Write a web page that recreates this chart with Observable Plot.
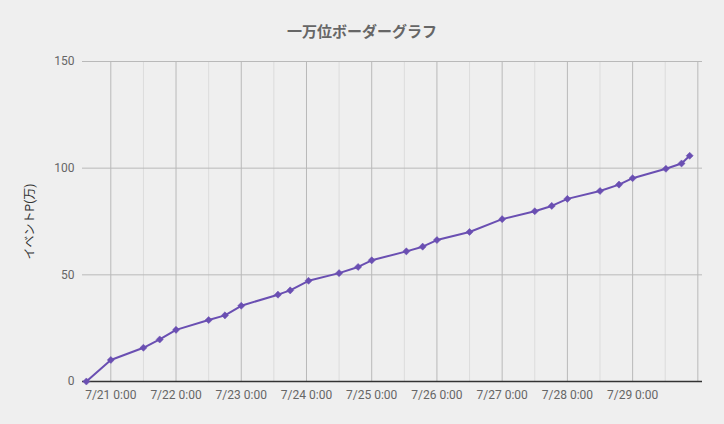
<!DOCTYPE html>
<html>
<head>
<meta charset="utf-8">
<script src="https://cdn.jsdelivr.net/npm/d3@7"></script>
<script src="https://cdn.jsdelivr.net/npm/@observablehq/plot@0.6"></script>
<style>
  html, body { margin: 0; padding: 0; background: #efefef; }
  body { width: 724px; height: 424px; overflow: hidden; font-family: Roboto, "Noto Sans CJK JP", sans-serif; }
  #title { width: 724px; height: 50px; box-sizing: border-box; padding-top: 22px; line-height: 20px;
           text-align: center; font-size: 15px; font-weight: bold; color: #666; }
  #chart svg { display: block; }
</style>
</head>
<body>
<div id="title">一万位ボーダーグラフ</div>
<div id="chart"></div>
<script>
const titleText = "一万位ボーダーグラフ";
const yLabel = "イベントP(万)";

const times = [
  "2023-07-20T15:00", "2023-07-21T00:00", "2023-07-21T12:00", "2023-07-21T18:00",
  "2023-07-22T00:00", "2023-07-22T12:00", "2023-07-22T18:00", "2023-07-23T00:00",
  "2023-07-23T13:30", "2023-07-23T18:00", "2023-07-24T00:45", "2023-07-24T12:00",
  "2023-07-24T19:00", "2023-07-25T00:00", "2023-07-25T12:45", "2023-07-25T18:45",
  "2023-07-26T00:00", "2023-07-26T12:00", "2023-07-27T00:00", "2023-07-27T12:00",
  "2023-07-27T18:15", "2023-07-28T00:00", "2023-07-28T12:00", "2023-07-28T19:00",
  "2023-07-29T00:00", "2023-07-29T12:15", "2023-07-29T18:00", "2023-07-29T21:00"
];
const values = [
  0, 10.1, 15.8, 19.7,
  24.2, 28.8, 31.0, 35.5,
  40.7, 42.7, 47.2, 50.8,
  53.7, 56.8, 61.0, 63.2,
  66.3, 70.1, 76.1, 79.8,
  82.3, 85.6, 89.3, 92.3,
  95.3, 99.7, 102.2, 105.8
];

const xDomainStr = ["2023-07-20T13:35", "2023-07-30T01:43"];
const majorTickStr = ["2023-07-21T00:00","2023-07-22T00:00","2023-07-23T00:00","2023-07-24T00:00","2023-07-25T00:00",
                      "2023-07-26T00:00","2023-07-27T00:00","2023-07-28T00:00","2023-07-29T00:00","2023-07-30T00:00"];
const minorTickStr = ["2023-07-21T12:00","2023-07-22T12:00","2023-07-23T12:00","2023-07-24T12:00","2023-07-25T12:00",
                      "2023-07-26T12:00","2023-07-27T12:00","2023-07-28T12:00","2023-07-29T12:00"];
const labelTickStr = majorTickStr.slice(0, 9);
const yTicks = [0, 50, 100, 150];

const parse = d3.utcParse("%Y-%m-%dT%H:%M");
const fmt = d3.utcFormat("%-m/%-d %-H:%M");
const data = times.map((t, i) => ({t: parse(t), v: values[i]}));
const majorTicks = majorTickStr.map(parse);
const minorTicks = minorTickStr.map(parse);
const labelTicks = labelTickStr.map(parse);

const lineColor = "#6a4fb2";

const chart = Plot.plot({
  width: 724,
  height: 374,
  marginTop: 11,
  marginBottom: 43,
  marginLeft: 82,
  marginRight: 22,
  style: {background: "transparent", fontFamily: "Roboto, 'Noto Sans CJK JP', sans-serif", fontSize: "12px", color: "#666"},
  x: {type: "utc", domain: xDomainStr.map(parse), axis: null},
  y: {domain: [0, 150], axis: null},
  marks: [
    Plot.ruleX(minorTicks, {stroke: "#dcdcdc", strokeWidth: 1}),
    Plot.ruleX(majorTicks, {stroke: "#b9b9b9", strokeWidth: 1}),
    Plot.ruleY(yTicks.filter(d => d > 0), {stroke: "#b9b9b9", strokeWidth: 1}),
    Plot.axisX({ticks: labelTicks, tickSize: 0, tickPadding: 9, tickFormat: fmt, fill: "#666", label: null}),
    Plot.axisY({ticks: yTicks, tickSize: 0, tickPadding: 8, fill: "#666", label: null}),
    Plot.text([yLabel], {frameAnchor: "left", dx: -52, rotate: -90, textAnchor: "middle", lineAnchor: "middle", text: d => d, fill: "#333", fontSize: 12}),
    Plot.ruleY([0], {stroke: "#333", strokeWidth: 1.5}),
    Plot.line(data, {x: "t", y: "v", stroke: lineColor, strokeWidth: 2}),
    Plot.dot(data, {x: "t", y: "v", symbol: "diamond2", r: 3.2, fill: lineColor, stroke: lineColor, strokeWidth: 0.5})
  ]
});
document.getElementById("chart").appendChild(chart);
</script>
</body>
</html>
